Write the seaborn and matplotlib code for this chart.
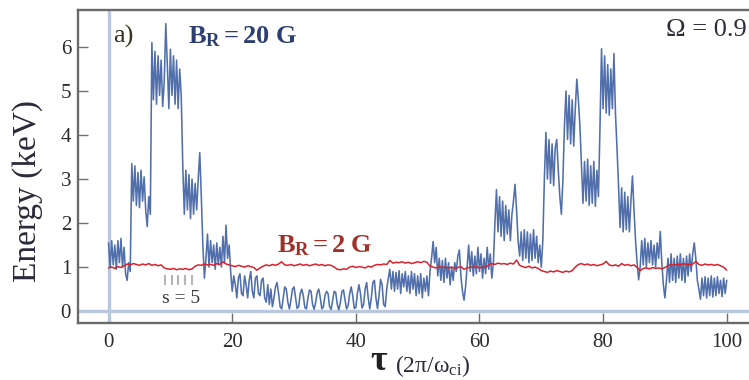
import numpy as np
import matplotlib
matplotlib.use("Agg")
import matplotlib.pyplot as plt
import seaborn as sns

# Particle energy (keV) versus time tau in gyro-periods, Omega = 0.9
# Strong field B_R = 20 G, sampled every 0.25 tau from tau = 0 to 100
energy_20G = [
    1.55, 1.0, 1.6, 1.05, 1.5, 0.95, 1.6, 1.1,        # 0-2
    1.65, 1.0, 1.45, 0.85, 0.7, 1.1, 0.9, 3.35,       # 2-4
    2.5, 3.3, 2.4, 3.15, 2.35, 3.2, 2.5, 3.05,        # 4-6
    2.3, 1.92, 2.6, 2.2, 6.1, 4.8, 5.9, 4.7,          # 6-8
    5.8, 4.9, 5.7, 4.65, 5.2, 6.53, 5.6, 4.6,         # 8-10
    5.95, 4.9, 5.8, 4.7, 5.7, 4.6, 5.5, 4.9,          # 10-12
    3.3, 2.2, 3.2, 2.3, 3.1, 2.1, 3.0, 2.2,           # 12-14
    2.9, 2.3, 3.0, 3.6, 2.6, 1.5, 0.75, 1.2,          # 14-16
    1.75, 1.0, 1.6, 1.1, 1.5, 0.95, 1.55, 1.05,       # 16-18
    1.45, 1.0, 1.7, 1.1, 1.95, 1.2, 1.5, 0.9,         # 18-20
    0.45, 0.8, 0.6, 0.3, 0.75, 0.85, 0.4, 0.35,       # 20-22
    0.8, 0.6, 0.3, 0.7, 0.9, 0.45, 0.3, 0.75,         # 22-24
    0.8, 0.4, 0.35, 0.7, 0.75, 0.3, 0.2, 0.6,         # 24-26
    0.15, 0.5, 0.1, 0.3, 0.55, 0.65, 0.4, 0.1,        # 26-28
    0.05, 0.3, 0.55, 0.5, 0.2, 0.05, 0.25, 0.5,       # 28-30
    0.55, 0.3, 0.06, 0.1, 0.4, 0.5, 0.35, 0.08,       # 30-32
    0.05, 0.3, 0.48, 0.45, 0.15, 0.04, 0.2, 0.42,     # 32-34
    0.5, 0.3, 0.05, 0.1, 0.35, 0.45, 0.4, 0.1,        # 34-36
    0.04, 0.25, 0.45, 0.42, 0.15, 0.03, 0.2, 0.45,    # 36-38
    0.48, 0.25, 0.05, 0.12, 0.4, 0.55, 0.35, 0.06,    # 38-40
    0.08, 0.4, 0.6, 0.4, 0.07, 0.15, 0.5, 0.65,       # 40-42
    0.3, 0.05, 0.3, 0.65, 0.7, 0.3, 0.06, 0.35,       # 42-44
    0.72, 0.6, 0.15, 0.1, 0.5, 0.75, 0.95, 0.5,       # 44-46
    0.9, 0.45, 0.88, 0.5, 0.92, 0.4, 0.85, 0.55,      # 46-48
    0.9, 0.45, 0.8, 0.4, 0.9, 0.5, 0.85, 0.35,        # 48-50
    0.8, 0.4, 0.85, 0.3, 0.75, 0.45, 0.8, 0.35,       # 50-52
    0.9, 1.2, 1.58, 1.1, 1.45, 0.8, 1.2, 0.7,         # 52-54
    1.15, 0.65, 1.2, 0.75, 1.1, 0.6, 1.0, 0.7,        # 54-56
    1.1, 0.9, 1.25, 1.39, 0.8, 0.45, 0.25, 0.55,      # 56-58
    1.0, 1.5, 0.9, 1.35, 0.8, 1.25, 0.85, 1.45,       # 58-60
    0.9, 1.3, 0.75, 1.2, 0.85, 1.45, 0.95, 1.3,       # 60-62
    0.75, 1.1, 2.0, 2.76, 1.8, 2.6, 1.7, 2.5,         # 62-64
    1.6, 2.4, 1.75, 2.3, 1.6, 2.2, 2.5, 2.88,         # 64-66
    2.3, 1.6, 1.25, 1.8, 1.15, 1.85, 1.2, 1.8,        # 66-68
    1.1, 1.75, 1.15, 1.85, 1.2, 1.7, 1.1, 1.5,        # 68-70
    1.0, 1.6, 3.0, 4.06, 3.0, 3.9, 2.9, 3.8,          # 70-72
    2.85, 3.7, 3.9, 3.2, 2.6, 2.2, 3.0, 4.2,          # 72-74
    5.0, 3.9, 4.9, 3.8, 4.8, 3.75, 4.6, 5.27,         # 74-76
    4.8, 4.2, 3.3, 2.45, 3.4, 2.5, 3.45, 2.4,         # 76-78
    3.3, 2.45, 3.4, 2.38, 3.2, 2.6, 4.2, 5.96,        # 78-80
    4.6, 5.8, 4.5, 5.6, 4.45, 5.5, 4.6, 5.85,         # 80-82
    4.5, 3.7, 2.84, 1.9, 2.8, 1.8, 2.7, 1.85,         # 82-84
    2.6, 1.8, 2.5, 3.07, 2.3, 1.6, 1.1, 0.71,         # 84-86
    1.0, 1.6, 1.05, 1.65, 1.0, 1.55, 1.1, 1.6,        # 86-88
    1.05, 1.5, 1.0, 1.55, 1.2, 1.81, 1.1, 0.6,        # 88-90
    0.3, 0.7, 1.2, 0.65, 1.3, 0.7, 1.2, 0.65,         # 90-92
    1.25, 0.75, 1.3, 0.7, 1.2, 0.65, 1.25, 0.8,       # 92-94
    1.3, 0.9, 1.3, 1.55, 1.2, 0.7, 0.5, 0.27,         # 94-96
    0.75, 0.35, 0.78, 0.3, 0.75, 0.35, 0.8, 0.32,     # 96-98
    0.75, 0.35, 0.78, 0.4, 0.7, 0.33, 0.75, 0.4,      # 98-100
    0.7,
]

# Weak field B_R = 2 G, sampled every 0.5 tau from tau = 0 to 100
energy_2G = [
    0.98, 1.00, 0.97, 1.01, 0.99, 1.03, 1.07, 1.05, 1.08, 1.06,  # 0-5
    1.04, 1.07, 1.05, 1.08, 1.04, 1.06, 1.03, 1.05, 0.98, 0.96,  # 5-10
    0.95, 0.97, 0.94, 0.96, 0.95, 0.97, 0.94, 0.96, 1.02, 1.05,  # 10-15
    1.04, 1.07, 1.05, 1.06, 1.04, 1.08, 1.06, 1.12, 1.07, 1.05,  # 15-20
    1.03, 1.01, 1.04, 1.02, 1.00, 1.03, 1.01, 0.99, 0.93, 0.98,  # 20-25
    1.02, 1.05, 1.03, 1.06, 1.04, 1.07, 1.12, 1.05, 1.04, 1.06,  # 25-30
    1.03, 1.05, 1.07, 1.04, 1.06, 1.03, 1.05, 1.07, 1.04, 1.06,  # 30-35
    1.03, 1.05, 1.04, 1.00, 0.95, 0.94, 0.96, 0.95, 1.00, 1.02,  # 35-40
    0.99, 1.01, 1.00, 0.98, 1.02, 1.00, 1.04, 1.06, 1.05, 1.07,  # 40-45
    1.06, 1.15, 1.09, 1.11, 1.10, 1.12, 1.09, 1.11, 1.08, 1.10,  # 45-50
    1.12, 1.10, 1.13, 1.11, 1.02, 1.00, 0.98, 1.01, 0.99, 1.00,  # 50-55
    0.98, 1.00, 0.97, 0.99, 1.01, 0.95, 0.98, 1.00, 0.99, 1.01,  # 55-60
    0.98, 1.00, 0.99, 1.05, 1.08, 1.06, 1.09, 1.07, 1.08, 1.06,  # 60-65
    1.09, 1.07, 1.16, 1.04, 1.01, 0.99, 1.02, 0.98, 1.00, 0.97,  # 65-70
    0.92, 0.90, 0.88, 0.91, 0.89, 0.92, 0.90, 0.88, 0.91, 0.89,  # 70-75
    0.92, 1.00, 1.06, 1.08, 1.05, 1.07, 1.04, 1.06, 1.03, 1.05,  # 75-80
    1.07, 1.13, 1.05, 1.03, 1.05, 1.02, 1.08, 1.04, 1.06, 1.03,  # 80-85
    1.05, 0.99, 0.92, 0.97, 0.98, 0.96, 0.99, 0.97, 0.98, 0.96,  # 85-90
    0.99, 1.03, 1.06, 1.04, 1.07, 1.05, 1.08, 1.06, 1.05, 1.07,  # 90-95
    1.13, 1.06, 1.04, 1.07, 1.05, 1.06, 1.04, 1.06, 1.03, 1.00,  # 95-100
    0.93,
]

tau_20G = np.arange(len(energy_20G)) * 0.25
tau_2G = np.arange(len(energy_2G)) * 0.5

x_ticks = [0, 20, 40, 60, 80, 100]
y_ticks = [0, 1, 2, 3, 4, 5, 6]
# five gyrations counted over the weak-field trace
s_marks = [9.1, 10.2, 11.3, 12.4, 13.5]

sns.set_theme(style="white")
plt.rcParams["font.family"] = ["Liberation Serif", "DejaVu Serif"]
plt.rcParams["mathtext.fontset"] = "custom"
plt.rcParams["mathtext.rm"] = "Liberation Serif"
plt.rcParams["mathtext.bf"] = "Liberation Serif:bold"
plt.rcParams["mathtext.it"] = "Liberation Serif:italic"

W, H = 749, 380
fig = plt.figure(figsize=(W / 100, H / 100), dpi=100)
fig.patch.set_facecolor("white")
ax = fig.add_axes([78 / W, 1 - 323 / H, (757 - 78) / W, (323 - 10) / H])
ax.set_xlim(-4.95, 104.9)
ax.set_ylim(-0.27, 6.84)

# reference axes through the origin
ax.axvline(0, color="#b9c7de", lw=2.4, zorder=1)
ax.axhline(0, color="#b9c7de", lw=2.4, zorder=1)

sns.lineplot(x=tau_20G, y=energy_20G, ax=ax, color="#5170ab", lw=1.15,
             estimator=None, zorder=3)
sns.lineplot(x=tau_2G, y=energy_2G, ax=ax, color="#d8232c", lw=1.1,
             estimator=None, zorder=4)

ax.vlines(s_marks, 0.59, 0.82, color="#b5b5b5", lw=1.5, zorder=2)
ax.text(11.8, 0.18, "s = 5", ha="center", va="baseline", fontsize=14,
        color="#3a3a3a")

ax.text(0.7, 6.09, "a)", ha="left", va="baseline", fontsize=19,
        color="#3a3020")
ax.text(12.9, 6.09, r"$\mathbf{B_R = 20\ G}$", ha="left", va="baseline",
        fontsize=19, color="#2c3f70")
ax.text(103.3, 6.25, "Ω = 0.9", ha="right", va="baseline", fontsize=19,
        color="#2e2e3a")
ax.text(27.3, 1.34, r"$\mathbf{B_R = 2\ G}$", ha="left", va="baseline",
        fontsize=19, color="#a03028")

ax.set_xticks(x_ticks)
ax.set_yticks(y_ticks)
ax.set_xticklabels([str(v) for v in x_ticks])
ax.set_yticklabels([str(v) for v in y_ticks])
ax.tick_params(direction="in", length=7, width=1.0, color="#707070",
               labelsize=15, labelcolor="#2b2b2b", top=False, right=False,
               left=True, bottom=True)
ax.tick_params(axis="x", pad=7)
ax.tick_params(axis="y", pad=5)
for s in ax.spines.values():
    s.set_color("#6a6a6a")
    s.set_linewidth(1.7)
ax.set_xlabel("")
ax.set_ylabel("")

fig.text(28 / W, 1 - 191 / H, "Energy (keV)", rotation=90, ha="center",
         va="center", fontsize=24, color="#2a2a3a")
fig.text(370 / W, 1 - 370 / H, "τ", ha="left", va="baseline", fontsize=26,
         fontweight="bold", color="#222222")
fig.text(395 / W, 1 - 372 / H, r"(2π/ω$_{\rm ci}$)", ha="left",
         va="baseline", fontsize=17, color="#2a2a3a")

fig.savefig("out.png", dpi=100)
